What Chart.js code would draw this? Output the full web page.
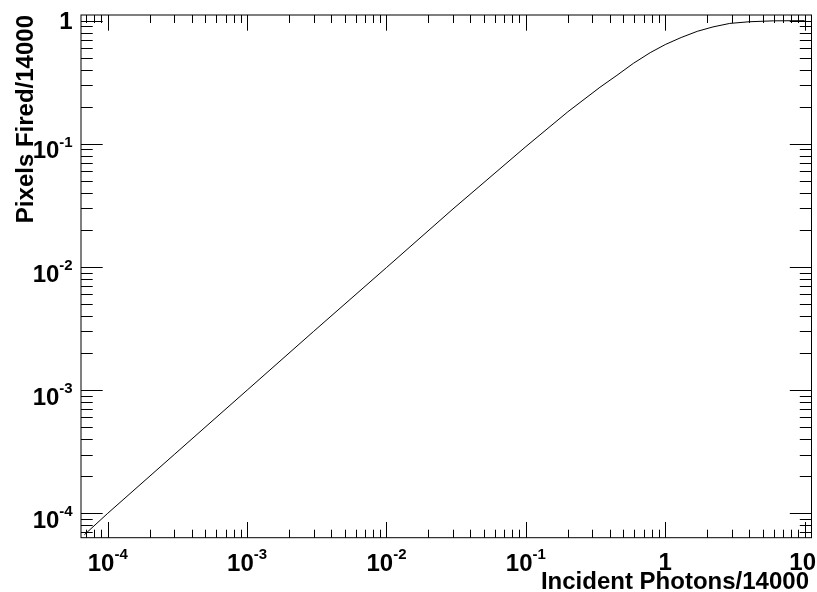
<!DOCTYPE html>
<html>
<head>
<meta charset="utf-8">
<title>Pixels Fired vs Incident Photons</title>
<script src="https://cdn.jsdelivr.net/npm/chart.js@4.4.1/dist/chart.umd.min.js"></script>
<style>
  body { margin: 0; background: #fff; }
  canvas { display: block; }
</style>
</head>
<body>
<canvas id="chart" width="817" height="592"></canvas>
<script>
// Values (both axes normalised to 14000)
const photons     = [6.8e-5, 1e-4, 3e-4, 1e-3, 3e-3, 0.01, 0.03, 0.1, 0.2, 0.34, 0.45, 0.59, 0.78, 1.0, 1.3, 1.7, 2.2, 2.9, 4.0, 6.0, 10];
const pixelsFired = [6.7e-5, 1e-4, 3e-4, 1e-3, 3e-3, 0.0099, 0.0296, 0.095, 0.182, 0.288, 0.36, 0.45, 0.55, 0.64, 0.73, 0.82, 0.89, 0.95, 0.98, 0.997, 1.0];

// Axis decades and their labels (base, exponent)
const xMajorTicks = [1e-4, 1e-3, 1e-2, 1e-1, 1, 10];
const xTickLabels = [['10', '-4'], ['10', '-3'], ['10', '-2'], ['10', '-1'], ['1', ''], ['10', '']];
const yMajorTicks = [1e-4, 1e-3, 1e-2, 1e-1, 1];
const yTickLabels = [['10', '-4'], ['10', '-3'], ['10', '-2'], ['10', '-1'], ['1', '']];

const xTitle = 'Incident Photons/14000';
const yTitle = 'Pixels Fired/14000';

const bigFont = 'bold 24px "Liberation Sans", Arial, Helvetica, sans-serif';
const supFont = 'bold 15px "Liberation Sans", Arial, Helvetica, sans-serif';
const titleFont = 'bold 24px "Liberation Sans", Arial, Helvetica, sans-serif';

// minor ticks at 2..9 of every decade inside [min, max]
function minorTicks(min, max) {
  const out = [];
  for (let e = Math.floor(Math.log10(min)); e <= Math.ceil(Math.log10(max)); e++) {
    for (let m = 2; m <= 9; m++) {
      const v = m * Math.pow(10, e);
      if (v > min && v < max) out.push(v);
    }
  }
  return out;
}

// ROOT style frame: ticks inside on all four sides, labels with superscripts
const rootFrame = {
  id: 'rootFrame',
  afterDatasetsDraw(chart) {
    const { ctx, chartArea: a, scales: { x, y } } = chart;
    const xMajLen = 15.7, xMinLen = 8, yMajLen = 21.7, yMinLen = 11.7;

    ctx.save();
    ctx.strokeStyle = '#000';
    ctx.lineWidth = 1;
    ctx.strokeRect(a.left, a.top, a.right - a.left, a.bottom - a.top);

    ctx.beginPath();
    const xTick = (v, len) => {
      const px = Math.round(x.getPixelForValue(v)) + 0.5;
      ctx.moveTo(px, a.bottom); ctx.lineTo(px, a.bottom - len);
      ctx.moveTo(px, a.top); ctx.lineTo(px, a.top + len);
    };
    const yTick = (v, len) => {
      const py = Math.round(y.getPixelForValue(v)) + 0.5;
      ctx.moveTo(a.left, py); ctx.lineTo(a.left + len, py);
      ctx.moveTo(a.right, py); ctx.lineTo(a.right - len, py);
    };
    xMajorTicks.forEach(v => xTick(v, xMajLen));
    minorTicks(x.min, x.max).forEach(v => xTick(v, xMinLen));
    yMajorTicks.forEach(v => yTick(v, yMajLen));
    minorTicks(y.min, y.max).forEach(v => yTick(v, yMinLen));
    ctx.stroke();

    ctx.fillStyle = '#000';
    ctx.textBaseline = 'alphabetic';
    ctx.textAlign = 'left';

    // x tick labels
    xMajorTicks.forEach((v, i) => {
      const [base, exp] = xTickLabels[i];
      ctx.font = bigFont;
      const wb = ctx.measureText(base).width;
      ctx.font = supFont;
      const we = exp ? ctx.measureText(exp).width : 0;
      let left = x.getPixelForValue(v) - (wb + we) / 2;
      left = Math.min(left, chart.width - 1 - wb - we);
      ctx.font = bigFont;
      ctx.fillText(base, left, exp ? 571 : 570);
      if (exp) {
        ctx.font = supFont;
        ctx.fillText(exp, left + wb, 558.5);
      }
    });

    // y tick labels, right aligned
    const yRight = 72.7;
    yMajorTicks.forEach((v, i) => {
      const [base, exp] = yTickLabels[i];
      const py = y.getPixelForValue(v);
      ctx.font = bigFont;
      const wb = ctx.measureText(base).width;
      ctx.font = supFont;
      const we = exp ? ctx.measureText(exp).width : 0;
      const left = yRight - wb - we;
      ctx.font = bigFont;
      ctx.fillText(base, left, exp ? py + 14.5 : py + 8);
      if (exp) {
        ctx.font = supFont;
        ctx.fillText(exp, left + wb, py + 3);
      }
    });

    // axis titles
    ctx.font = titleFont;
    ctx.textAlign = 'right';
    ctx.fillText(xTitle, 809, 589);

    ctx.translate(33, 15);
    ctx.rotate(-Math.PI / 2);
    ctx.fillText(yTitle, 0, 0);
    ctx.restore();
  }
};

new Chart(document.getElementById('chart'), {
  type: 'scatter',
  data: {
    datasets: [{
      data: photons.map((p, i) => ({ x: p, y: pixelsFired[i] })),
      showLine: true,
      borderColor: '#000',
      borderWidth: 1,
      pointRadius: 0,
      tension: 0
    }]
  },
  options: {
    responsive: false,
    animation: false,
    layout: { padding: { left: 81, top: 15, right: 5.5, bottom: 54.3 } },
    scales: {
      x: { type: 'logarithmic', min: 6.43e-5, max: 11.2, display: false },
      y: { type: 'logarithmic', min: 6.34e-5, max: 1.112, display: false }
    },
    plugins: { legend: { display: false }, tooltip: { enabled: false } }
  },
  plugins: [rootFrame]
});
</script>
</body>
</html>
